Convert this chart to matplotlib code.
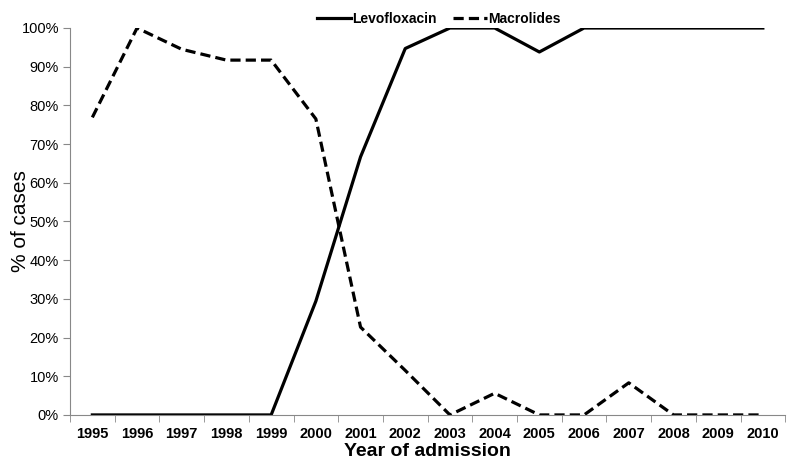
import matplotlib.pyplot as plt
import numpy as np
from matplotlib.ticker import FuncFormatter, FixedLocator

years = ['1995', '1996', '1997', '1998', '1999', '2000', '2001', '2002',
         '2003', '2004', '2005', '2006', '2007', '2008', '2009', '2010']
levofloxacin = [0, 0, 0, 0, 0, 29.4, 66.7, 94.7, 100, 100, 93.8, 100, 100, 100, 100, 100]
macrolides = [76.9, 100, 94.5, 91.7, 91.7, 76.5, 22.7, 11.5, 0, 5.6, 0, 0, 8.3, 0, 0, 0]

plt.rcParams['font.family'] = ['Liberation Sans', 'DejaVu Sans']
narrow = ['Liberation Sans Narrow', 'DejaVu Sans Condensed', 'Liberation Sans']

fig = plt.figure(figsize=(8, 4.59), dpi=100)
ax = fig.add_axes([0.0875, 0.096, 0.894, 0.843])

x = np.arange(len(years))
ax.plot(x, levofloxacin, color='black', lw=2.3, label='Levofloxacin')
ax.plot(x, macrolides, color='black', lw=2.3, ls=(0, (3.2, 1.6)), label='Macrolides')

ax.set_xlim(-0.5, len(years) - 0.5)
ax.set_ylim(0, 100)
ax.set_yticks(np.arange(0, 101, 10))
ax.yaxis.set_major_formatter(FuncFormatter(lambda v, p: f'{int(v)}%'))
ax.set_xticks(x)
ax.set_xticklabels(years, fontfamily=narrow, fontweight='bold', fontsize=10.5)
ax.xaxis.set_minor_locator(FixedLocator(np.arange(-0.5, len(years), 1)))
ax.tick_params(axis='x', which='major', length=0, pad=9)
ax.tick_params(axis='x', which='minor', length=5, color='#888888', direction='out')
ax.tick_params(axis='y', length=5, color='#888888', labelsize=10.5, pad=3)

for s in ['top', 'right']:
    ax.spines[s].set_visible(False)
for s in ['left', 'bottom']:
    ax.spines[s].set_color('#888888')

ax.set_ylabel('% of cases', fontsize=15)
ax.yaxis.set_label_coords(-0.056, 0.5)
ax.set_xlabel('Year of admission', fontsize=14, fontweight='bold', fontfamily=narrow)
ax.xaxis.set_label_coords(0.5, -0.072)

leg = ax.legend(loc='lower center', bbox_to_anchor=(0.516, 0.99), ncol=2, frameon=False,
                prop={'weight': 'bold', 'size': 10}, handlelength=2.4,
                handletextpad=0.1, columnspacing=1.2, borderaxespad=0)

fig.savefig('out.png', dpi=100)
